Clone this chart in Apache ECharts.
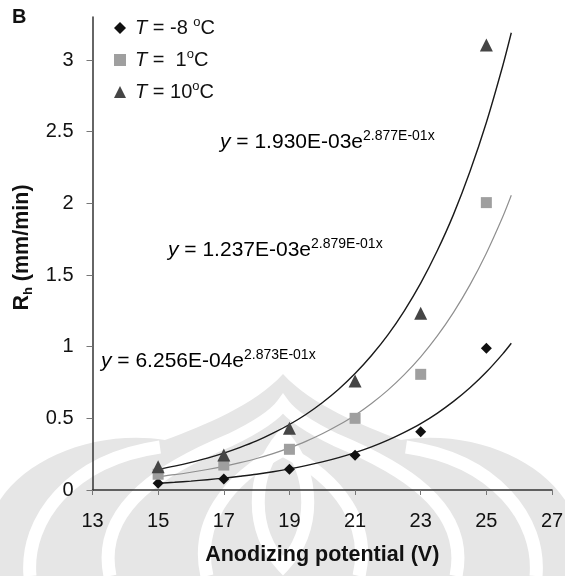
<!DOCTYPE html>
<html><head><meta charset="utf-8">
<script src="https://cdn.jsdelivr.net/npm/echarts@6/dist/echarts.min.js"></script>
<style>html,body{margin:0;padding:0;background:#fff}#c{width:565px;height:576px}</style>
</head><body><div id="c"></div>
<script>
// ---- data ----
const potentials = [15, 17, 19, 21, 23, 25];
const rateM8  = [0.047, 0.077, 0.144, 0.242, 0.407, 0.989];
const rateP1  = [0.110, 0.174, 0.284, 0.500, 0.807, 2.005];
const rateP10 = [0.163, 0.244, 0.430, 0.760, 1.233, 3.105];
const seriesNames = ['T = -8 °C', 'T =  1°C', 'T = 10°C'];
const legendTemps = [' = -8 ', ' =  1', ' = 10'];
// trend curves
const trendX   = [15, 15.5, 16, 16.5, 17, 17.5, 18, 18.5, 19, 19.5, 20, 20.5, 21, 21.5, 22, 22.5, 23, 23.5, 24, 24.5, 25, 25.5, 25.76];
const trendM8  = [0.047, 0.054, 0.062, 0.072, 0.083, 0.096, 0.110, 0.127, 0.147, 0.170, 0.196, 0.226, 0.261, 0.301, 0.348, 0.402, 0.463, 0.535, 0.618, 0.713, 0.823, 0.950, 1.024];
const trendP1  = [0.093, 0.107, 0.124, 0.143, 0.165, 0.191, 0.220, 0.254, 0.294, 0.339, 0.392, 0.453, 0.522, 0.604, 0.697, 0.805, 0.929, 1.073, 1.239, 1.431, 1.652, 1.906, 2.056];
const trendP10 = [0.144, 0.167, 0.193, 0.222, 0.257, 0.297, 0.342, 0.396, 0.457, 0.527, 0.609, 0.703, 0.812, 0.938, 1.082, 1.250, 1.443, 1.667, 1.923, 2.222, 2.564, 2.960, 3.190];
const eqCoef = ['6.256E-04', '1.237E-03', '1.930E-03'];
const eqExp  = ['2.873E-01x', '2.879E-01x', '2.877E-01x'];
const xTicks = [13, 15, 17, 19, 21, 23, 25, 27];
const yTicks = [0, 0.5, 1, 1.5, 2, 2.5, 3];

// ---- chart ----
const FF = '"Liberation Sans", Arial, sans-serif';
const chart = echarts.init(document.getElementById('c'), null, {renderer: 'canvas'});
const pairs = (xs, ys) => xs.map((x, i) => [x, ys[i]]);
const symbols = ['diamond', 'rect', 'triangle'];
const symSizes = [11, 11, 13];
const markColors = ['#111111', '#9f9f9f', '#454545'];
const lineColors = ['#1a1a1a', '#8f8f8f', '#1a1a1a'];
const rates = [rateM8, rateP1, rateP10];
const trends = [trendM8, trendP1, trendP10];

const series = [];
trends.forEach((t, i) => {
  series.push({
    type: 'line', name: 'trend' + i, data: pairs(trendX, t), smooth: 0.3,
    showSymbol: false, silent: true, z: 2,
    lineStyle: {color: lineColors[i], width: i === 1 ? 1.2 : 1.4}
  });
});
rates.forEach((r, i) => {
  series.push({
    type: 'scatter', name: seriesNames[i], data: pairs(potentials, r),
    symbol: symbols[i], symbolSize: symSizes[i], z: 3,
    itemStyle: {color: markColors[i], opacity: 1}
  });
});

// faint background watermark (decorative)
const WM = '#e6e6e6';
const wmPaths = [
  {d: 'M0 500 C30 455 100 430 165 440 C205 425 255 405 283 374 C311 405 361 425 401 440 C466 430 535 455 565 500 L565 576 L0 576 Z', fill: WM},
  {d: 'M30 576 C25 520 70 460 160 447', stroke: '#ffffff'},
  {d: 'M536 576 C541 520 496 460 406 447', stroke: '#ffffff'},
  {d: 'M110 576 C95 505 170 465 230 440 C255 428 275 415 283 404 C291 415 311 428 336 440 C396 465 471 505 456 576', stroke: '#ffffff'},
  {d: 'M207 576 C195 525 225 480 283 450 C341 480 371 525 359 576', stroke: '#ffffff'},
  {d: 'M283 566 C250 530 250 475 283 436 C316 475 316 530 283 566 Z', stroke: '#ffffff'}
];
const graphics = [];
wmPaths.forEach((p, i) => {
  const name = 'wmShape' + i;
  echarts.graphic.registerShape(name, echarts.graphic.extendPath(p.d, {}));
  graphics.push({
    type: name, z: -10, silent: true,
    style: p.fill ? {fill: p.fill, stroke: null} : {fill: null, stroke: p.stroke, lineWidth: 13}
  });
});

const eqTops = [348, 237, 129];
const eqLefts = [101, 168, 220];
const eqRich = {
  y: {fontFamily: FF, fontSize: 21, fontStyle: 'italic', color: '#111', lineHeight: 26},
  m: {fontFamily: FF, fontSize: 21, color: '#111', lineHeight: 26},
  s: {fontFamily: FF, fontSize: 14, color: '#111', lineHeight: 12, verticalAlign: 'top'}
};
graphics.push({
  type: 'text', left: 12, top: 7,
  style: {text: 'B', font: 'bold 20px ' + FF, fill: '#111'}
});
eqCoef.forEach((c, i) => {
  graphics.push({
    type: 'text', left: eqLefts[i], top: eqTops[i],
    style: {text: '{y|y}{m| = ' + c + 'e}{s|' + eqExp[i] + '}', rich: eqRich}
  });
});

chart.setOption({
  backgroundColor: '#ffffff',
  animation: false,
  grid: {left: 92.5, right: 13, top: 17, bottom: 86, containLabel: false, outerBoundsMode: 'none'},
  legend: {
    orient: 'vertical', left: 109, top: 11, itemWidth: 12, itemHeight: 12, itemGap: 10,
    data: seriesNames.map((n, i) => ({name: n, icon: symbols[i]})),
    formatter: name => {
      const i = seriesNames.indexOf(name);
      return '{it|T}{n|' + legendTemps[i] + '}{sup|o}{n|C}';
    },
    textStyle: {
      fontFamily: FF, fontSize: 20, color: '#111', padding: [0, 0, 0, 4],
      rich: {
        it: {fontFamily: FF, fontSize: 20, fontStyle: 'italic', color: '#111', lineHeight: 24},
        n: {fontFamily: FF, fontSize: 20, color: '#111', lineHeight: 24},
        sup: {fontFamily: FF, fontSize: 13, color: '#111', lineHeight: 12, verticalAlign: 'top'}
      }
    }
  },
  xAxis: {
    type: 'value', min: 13, max: 27, interval: 2,
    name: 'Anodizing potential (V)', nameLocation: 'middle', nameGap: 54,
    nameTextStyle: {fontFamily: FF, fontSize: 21.5, fontWeight: 'bold', color: '#111'},
    axisLine: {show: true, lineStyle: {color: '#333', width: 1.5}},
    axisTick: {show: true, length: 5, lineStyle: {color: '#777', width: 1}},
    axisLabel: {fontFamily: FF, fontSize: 20, color: '#111', margin: 21,
      customValues: xTicks},
    splitLine: {show: false}
  },
  yAxis: {
    type: 'value', min: 0, max: 3.3, interval: 0.5,
    name: '{b|R}{s|h}{b| (mm/min)}', nameLocation: 'middle', nameGap: 54, nameRotate: 90,
    nameTextStyle: {
      padding: [0, 0, 0, 12],
      rich: {
        b: {fontFamily: FF, fontSize: 21.5, fontWeight: 'bold', color: '#111', lineHeight: 26},
        s: {fontFamily: FF, fontSize: 13, fontWeight: 'bold', color: '#111', lineHeight: 13, verticalAlign: 'bottom'}
      }
    },
    axisLine: {show: true, lineStyle: {color: '#333', width: 1.5}},
    axisTick: {show: true, length: 6, lineStyle: {color: '#777', width: 1}, customValues: yTicks},
    axisLabel: {fontFamily: FF, fontSize: 20, color: '#111', margin: 19, customValues: yTicks,
      formatter: v => String(v)},
    splitLine: {show: false}
  },
  graphic: graphics,
  series: series
});
</script></body></html>
